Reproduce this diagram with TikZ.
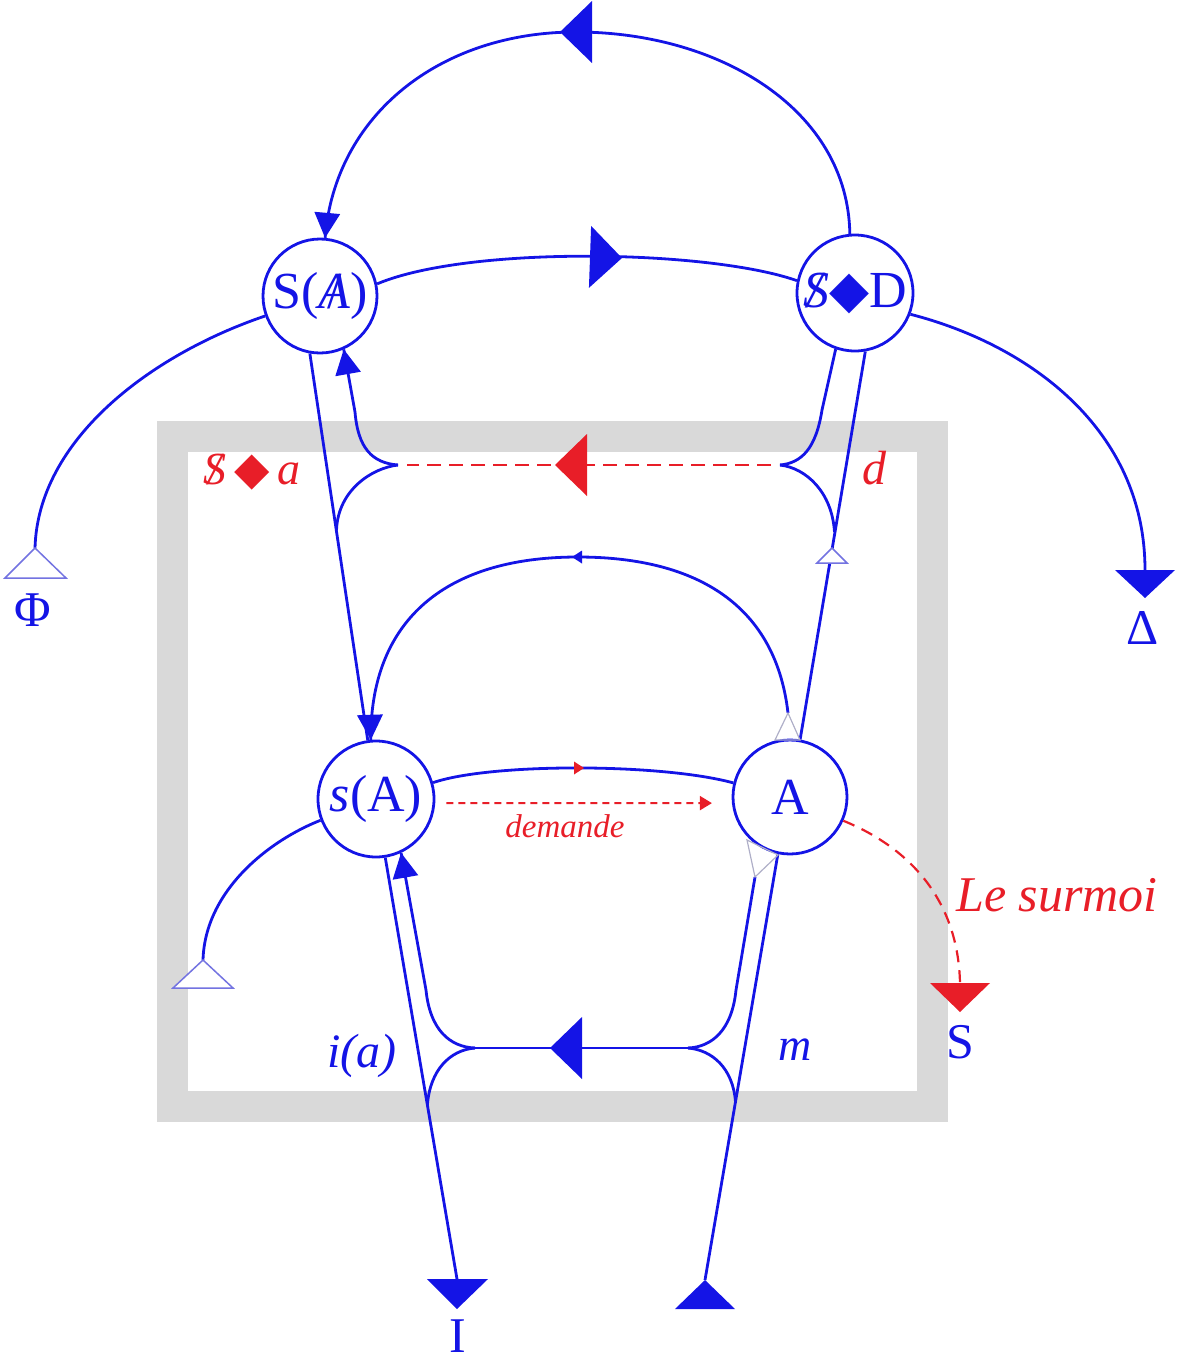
\documentclass[tikz,border=0pt]{standalone}
\usepackage{fontspec}
\setmainfont{Liberation Serif}
\newfontfamily\dejavu{DejaVu Sans}
\usetikzlibrary{arrows.meta}
\definecolor{lb}{RGB}{20,20,230}
\definecolor{lr}{RGB}{232,30,40}
\definecolor{frm}{RGB}{217,217,217}
\definecolor{tric}{RGB}{115,115,225}
\definecolor{gtric}{RGB}{175,175,200}
\newcommand{\barS}{\ooalign{\textit{S}\cr\hidewidth\textit{/}\hidewidth\cr}}
\newcommand{\barA}{\ooalign{\textit{A}\cr\hidewidth/\hidewidth\cr}}
\newcommand{\dmd}{{\dejavu ◆}}
\begin{document}
\begin{tikzpicture}[x=1pt,y=-1pt,
  bl/.style={draw=lb, line width=2.8pt},
  rd/.style={draw=lr, line width=2.6pt, dash pattern=on 14pt off 8pt},
  circ/.style={circle, draw=lb, line width=2.8pt, fill=white, minimum size=114pt, inner sep=0pt, text=lb, font=\fontsize{52}{60}\selectfont},
  opentri/.style={draw=tric, line width=1.5pt, fill=white},
  greytri/.style={draw=gtric, line width=1.2pt},
  lbl/.style={text=lb, font=\fontsize{50}{60}\selectfont, inner sep=0pt},
  rlbl/.style={text=lr, font=\fontsize{48}{58}\selectfont\itshape, inner sep=0pt},
  bigarr/.pic={\fill (0,0) -- (-32,-31) -- (-32,31) -- cycle;},
  midarr/.pic={\fill (0,0) -- (-25,-13) -- (-25,13) -- cycle;},
  smallarr/.pic={\fill (0,0) -- (-10,-6.5) -- (-10,6.5) -- cycle;},
]
\useasboundingbox (0,0) rectangle (1176,1363);
% frame
\draw[frm, line width=31pt] (172.5,436) rectangle (932.5,1106);

% nodes
\node[circ] (SA) at (320,296) {S(\barA)};
\node[circ, minimum size=116pt] (SD) at (855,293) {\barS\dmd D};
\node[circ, minimum size=116pt] (sA) at (376,799) {\textit{s}(A)};
\node[circ] (A) at (790,797) {A};

% end points
\coordinate (phiT) at (35,548);
\coordinate (lT) at (203,960);
\coordinate (deltaT) at (1145,570);
\coordinate (IT) at (457,1279);
\coordinate (upT) at (705,1280);
\coordinate (ST) at (960,983);
\coordinate (aTop) at (788,713);
\coordinate (aBot) at (755,877);
\coordinate (cL) at (398,465);
\coordinate (cR) at (780,465);
\coordinate (cBL) at (475,1048);
\coordinate (cBR) at (688,1048);

% top arc
\draw[bl] (SD.95) .. controls (848,110) and (720,32) .. (576,32) .. controls (440,32) and (335,115) .. (SA.85);
\pic[color=lb, rotate=180] at (560,32) {bigarr};
\pic[color=lb, rotate=-95] at (SA.85) {midarr};
% top middle
\draw[bl] (SA.12) .. controls (470,245) and (710,250) .. (SD.168);
\pic[color=lb, rotate=-2] at (622,258) {bigarr};
% to Phi and Delta
\draw[bl] (SA.200) .. controls (150,355) and (38,440) .. (phiT);
\draw[opentri] (phiT) -- (5,578) -- (66,578) -- cycle;
\draw[bl] (SD.-21) .. controls (1030,345) and (1145,430) .. (deltaT);
\fill[lb] (1115,570) -- (1175,570) -- (1145,598) -- cycle;

% S(A) - s(A)
\draw[bl] (SA.-100) -- (sA.98);
\draw[bl] (SA.-66) -- (355,412) .. controls (358,448) and (372,463) .. (cL);
\draw[bl] (cL) .. controls (372,468) and (338,490) .. (336.5,530);
\pic[color=lb, rotate=100] at (SA.-66) {midarr};

% $<>D - A
\draw[bl] (SD.-80) -- (A.80);
\draw[bl] (SD.-109) -- (822,410) .. controls (816,448) and (802,463) .. (cR);
\draw[bl] (cR) .. controls (806,468) and (832,492) .. (834.5,532);
\draw[opentri] (832,548) -- (817,563) -- (847,563) -- cycle;

% red dashed $<>a -- d
\draw[rd, shorten <=9pt, shorten >=9pt] (cR) -- (cL);
\pic[color=lr, rotate=180] at (555,465) {bigarr};

% inner arc
\draw[bl] (aTop) .. controls (775,600) and (690,557) .. (578,557) .. controls (440,557) and (370,625) .. (sA.95);
\pic[color=lb, rotate=180] at (572,557) {smallarr};
\pic[color=lb, rotate=-88] at (sA.95) {midarr};
\draw[greytri] (aTop) -- (775,740) -- (800,740) -- cycle;

% middle
\draw[bl] (sA.16) .. controls (490,763) and (660,763) .. (A.166);
\pic[color=lr] at (584,768) {smallarr};
\draw[lr, line width=1.9pt, dash pattern=on 7pt off 5pt, shorten <=11pt, shorten >=20pt, -{Triangle[length=12pt,width=14pt]}] (sA.-4) -- (A.-174);

% left lower
\draw[bl] (sA.201) .. controls (270,840) and (205,890) .. (lT);
\draw[opentri] (lT) -- (173,988) -- (233,988) -- cycle;

% surmoi
\draw[rd, line width=2.2pt, dash pattern=on 12pt off 8pt] (A.-24) .. controls (910,848) and (958,900) .. (ST);
\fill[lr] (930,983) -- (990,983) -- (960,1012) -- cycle;

% bottom left
\draw[bl] (sA.-81) -- (IT);
\draw[bl] (sA.-65) -- (426,990) .. controls (430,1030) and (450,1047) .. (cBL);
\draw[bl] (cBL) .. controls (450,1050) and (430,1070) .. (427.4,1105);
\pic[color=lb, rotate=100] at (sA.-65) {midarr};
\fill[lb] (427,1279) -- (488,1279) -- (457,1309) -- cycle;

% bottom horizontal
\draw[bl] (cBR) -- (cBL);
\pic[color=lb, rotate=180] at (550,1048) {bigarr};

% bottom right
\draw[bl] (A.-102) -- (upT);
\draw[bl] (aBot) -- (736,990) .. controls (732,1030) and (712,1047) .. (cBR);
\draw[bl] (cBR) .. controls (712,1050) and (733,1068) .. (735.5,1102);
\draw[greytri] (747,840) -- (aBot) -- (778,855) -- cycle;
\fill[lb] (705,1280) -- (675,1309) -- (735,1309) -- cycle;

% labels
\node[rlbl, font=\fontsize{46}{56}\selectfont\itshape] (sda) at (252,472) {\barS\,\dmd\,a};
\node[rlbl] (dlab) at (874,468) {d};
\node[lbl, font=\fontsize{48}{58}\selectfont\itshape] (ia) at (362,1056) {i(a)};
\node[lbl, font=\fontsize{46}{56}\selectfont\itshape] (mlab) at (795,1050) {m};
\node[rlbl, font=\fontsize{33}{40}\selectfont\itshape] (dem) at (565,826) {demande};
\node[rlbl, font=\fontsize{50}{60}\selectfont\itshape] (surmoi) at (1057,895) {Le surmoi};
\node[lbl] (phil) at (33,610) {Φ};
\node[lbl] (dell) at (1143,628) {Δ};
\node[lbl] (Sl) at (960,1042) {S};
\node[lbl] (Il) at (458,1336) {I};
\end{tikzpicture}
\end{document}
